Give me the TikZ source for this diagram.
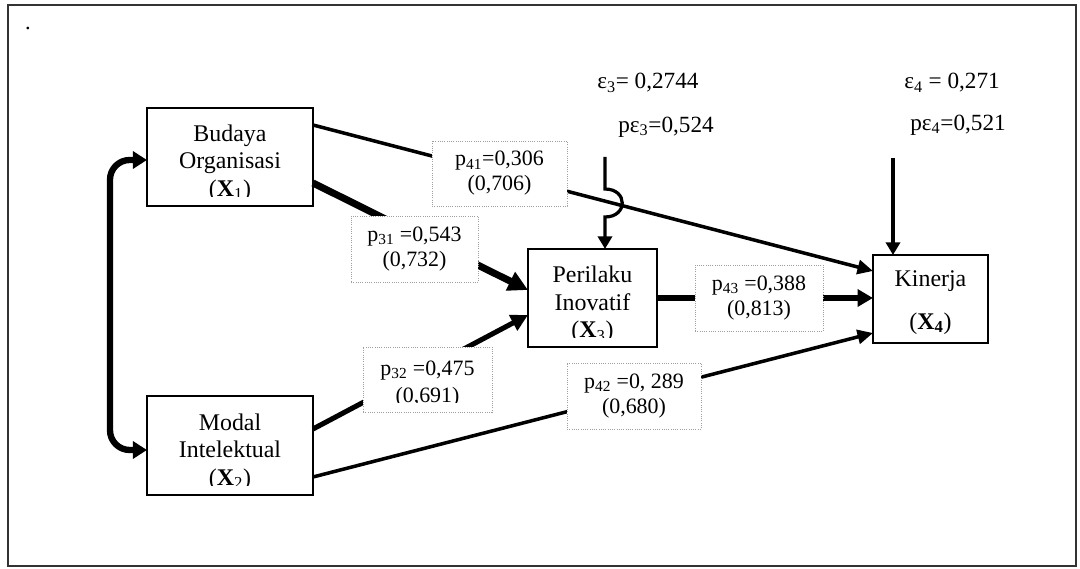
\documentclass[tikz,border=0pt]{standalone}
\usepackage{fontspec}
\setmainfont{Liberation Serif}
\usetikzlibrary{arrows.meta,calc}
\begin{document}
\begin{tikzpicture}[x=0.025cm,y=-0.025cm,
  box/.style={draw,line width=1.9pt,inner sep=0pt,outer sep=0pt},
  lbl/.style={draw=gray!75,densely dotted,line width=0.6pt,fill=white,inner sep=0pt,outer sep=0pt,
    align=center,font=\fontsize{15.6}{17.8}\selectfont},
  boxtext/.style={align=center,font=\fontsize{17}{19.6}\selectfont,inner sep=0pt},
  toptext/.style={anchor=west,inner sep=0pt,font=\fontsize{16.5}{19}\selectfont},
  thinarrow/.style={line width=2.5pt,-{Triangle[length=11pt,width=10pt]}},
  earrow/.style={line width=2.3pt,-{Triangle[length=9pt,width=10pt]}},
]
\useasboundingbox (0,0) rectangle (1080,569);
% outer frame
\draw[black!80,line width=1.4pt] (8,5) rectangle (1076,566);
\node[inner sep=0pt,font=\fontsize{16}{19}\selectfont] (dot) at (28,28) {.};

% main boxes
\node[box,minimum width=166*0.025cm,minimum height=98*0.025cm] (x1) at (230,157) {};
\node[box,minimum width=166*0.025cm,minimum height=99*0.025cm] (x2) at (230,445.5) {};
\node[box,minimum width=129*0.025cm,minimum height=98*0.025cm] (x3) at (592.5,298) {};
\node[box,minimum width=115*0.025cm,minimum height=88*0.025cm] (x4) at (930.5,299) {};
\node[boxtext] (x4t) at (930.5,302.5) {Kinerja\\[10.5pt](\textbf{X\textsubscript{4}})};

% box texts (clipped as in the original)
\begin{scope}
  \clip (x1.north west) rectangle ([yshift=7pt]x1.south east);
  \node[boxtext] (x1t) at (230,163) {Budaya\\Organisasi\\(\textbf{X}\textsubscript{1})};
\end{scope}
\begin{scope}
  \clip (x2.north west) rectangle ([yshift=7pt]x2.south east);
  \node[boxtext] (x2t) at (230,452) {Modal\\Intelektual\\(\textbf{X}\textsubscript{2})};
\end{scope}
\begin{scope}
  \clip (x3.north west) rectangle ([yshift=7pt]x3.south east);
  \node[boxtext] (x3t) at (592.5,304.5) {Perilaku\\Inovatif\\(\textbf{X}\textsubscript{3})};
\end{scope}

% connectors
\draw[thinarrow] (x1.east |- 0,125) -- (x4.west |- 0,271);
\draw[line width=5pt,-{Triangle[length=14pt,width=14pt]}] (x1.east |- 0,183) -- (x3.west |- 0,290);
\draw[line width=3.6pt,-{Triangle[length=12pt,width=12pt]}] (x2.east |- 0,429) -- (x3.west |- 0,315);
\draw[line width=4.3pt,-{Triangle[length=11pt,width=12pt]}] (x3.east |- 0,298) -- (x4.west |- 0,298);
\draw[thinarrow] (x2.east |- 0,477) -- (x4.west |- 0,333);
\draw[line width=4.5pt,{Triangle[length=10pt,width=12pt]}-{Triangle[length=10pt,width=12pt]},rounded corners=14pt]
  (x1.west |- 0,160) -- (110,160) -- (110,450) -- (x2.west |- 0,450);

% error terms
\coordinate (e3s) at (605,157);
\coordinate (e4s) at (893,158);
\draw[earrow] (e3s) -- (605,189) .. controls (628,189) and (628,217) .. (605,217) -- (x3.north -| e3s);
\draw[earrow] (e4s) -- (x4.north -| e4s);
\node[toptext] (e3a) at (597,83) {ε\textsubscript{3}= 0,2744};
\node[toptext] (e3b) at (618,127) {pε\textsubscript{3}=0,524};
\node[toptext] (e4a) at (904,83) {ε\textsubscript{4} = 0,271};
\node[toptext] (e4b) at (910,125) {pε\textsubscript{4}=0,521};

% coefficient labels
\node[lbl,minimum width=135*0.025cm,minimum height=65*0.025cm] (p41) at (499.5,173.5)
  {p\textsubscript{41}=0,306\\(0,706)};
\node[lbl,minimum width=127*0.025cm,minimum height=66*0.025cm] (p31) at (414.5,249)
  {p\textsubscript{31} =0,543\\(0,732)};
\node[lbl,minimum width=128*0.025cm,minimum height=66*0.025cm] (p43) at (759,298)
  {p\textsubscript{43} =0,388\\(0,813)};
\node[lbl,minimum width=134*0.025cm,minimum height=66*0.025cm] (p42) at (634,396)
  {p\textsubscript{42} =0, 289\\(0,680)};
\node[lbl,minimum width=129*0.025cm,minimum height=65*0.025cm] (p32) at (427.5,379.5) {};
\begin{scope}
  \clip (p32.north west) rectangle ([yshift=7pt]p32.south east);
  \node[align=center,inner sep=0pt,font=\fontsize{15.6}{19}\selectfont] (p32t) at (427.5,384)
    {p\textsubscript{32} =0,475\\(0,691)};
\end{scope}
\end{tikzpicture}
\end{document}
